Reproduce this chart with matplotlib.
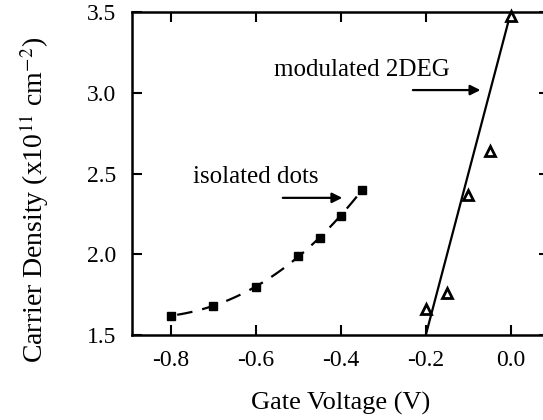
import numpy as np
import matplotlib
matplotlib.use("Agg")
import matplotlib.pyplot as plt

# isolated dots (filled squares)
dots_v = [-0.80, -0.70, -0.60, -0.50, -0.45, -0.40, -0.35]
dots_n = [1.62, 1.68, 1.80, 1.99, 2.10, 2.24, 2.40]

# modulated 2DEG (open triangles)
deg_v = [-0.20, -0.15, -0.10, -0.05, 0.00]
deg_n = [1.66, 1.76, 2.37, 2.64, 3.48]

# straight guide line through the 2DEG data
line_v = [-0.20, 0.00]
line_n = [1.50, 3.50]

xticks = [-0.8, -0.6, -0.4, -0.2, 0.0]
yticks = [1.5, 2.0, 2.5, 3.0, 3.5]

plt.rcParams['font.family'] = ['Liberation Serif', 'DejaVu Serif']
plt.rcParams['mathtext.fontset'] = 'stix'

fig = plt.figure(figsize=(5.43, 4.2), dpi=100)
ax = fig.add_axes([0.2425, 0.2024, 0.7687, 0.7683])

# dashed fit through the dots
coef = np.polyfit(dots_v, dots_n, 3)
vv = np.linspace(dots_v[0] + 0.015, dots_v[-1] - 0.012, 100)
ax.plot(vv, np.polyval(coef, vv), color='black', lw=1.6, dashes=(7, 4.5))
ax.plot(dots_v, dots_n, 's', color='black', ms=5.5, zorder=3)

ax.plot(line_v, line_n, color='black', lw=1.6)
ax.plot(deg_v, deg_n, '^', mfc='white', mec='black', mew=2, ms=6.5, zorder=3,
        clip_on=False)

ax.set_xlim(-0.892, 0.09)
ax.set_ylim(1.5, 3.5)
ax.set_xticks(xticks)
ax.set_yticks(yticks)
ax.set_xticklabels(['-0.8', '-0.6', '-0.4', '-0.2', '0.0'])
ax.set_yticklabels(['1.5', '2.0', '2.5', '3.0', '3.5'])
ax.tick_params(direction='in', length=7, width=1.5, labelsize=17,
               top=True, right=True)
ax.tick_params(axis='x', pad=11)
ax.tick_params(axis='y', pad=11)
for s in ax.spines.values():
    s.set_linewidth(1.8)

ax.set_xlabel('Gate Voltage (V)', fontsize=19, labelpad=15)
ax.set_ylabel(r'Carrier Density (x10$^{11}$ cm$^{-2}$)', fontsize=20)
ax.yaxis.set_label_coords(-0.193, 0.42)

ax.text(-0.35, 3.14, 'modulated 2DEG', fontsize=18, ha='center', va='center')
ax.annotate('', xy=(-0.065, 3.018), xytext=(-0.237, 3.018),
            arrowprops=dict(arrowstyle='-|>', color='black', lw=1.6,
                            mutation_scale=15))
ax.text(-0.60, 2.48, 'isolated dots', fontsize=18, ha='center', va='center')
ax.annotate('', xy=(-0.39, 2.35), xytext=(-0.543, 2.35),
            arrowprops=dict(arrowstyle='-|>', color='black', lw=1.6,
                            mutation_scale=15))

fig.savefig('out.png', dpi=100)
